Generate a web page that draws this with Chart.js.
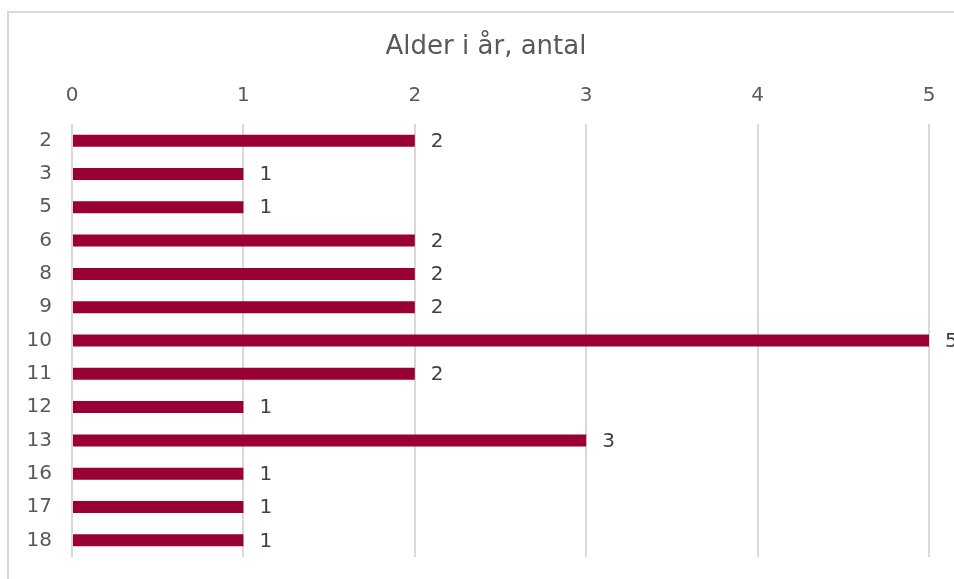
<!DOCTYPE html>
<html>
<head>
<meta charset="utf-8">
<script src="https://cdn.jsdelivr.net/npm/chart.js@4"></script>
<style>
  html, body { margin: 0; padding: 0; overflow: hidden; background: #fff; }
  #frame { position: absolute; left: 7px; top: 11px; width: 1000px; height: 700px; border: 2px solid #d9d9d9; }
  #wrap { position: absolute; left: 0; top: 0; width: 954px; height: 579px; }
</style>
</head>
<body>
<div id="frame"></div>
<div id="wrap"><canvas id="ageChart"></canvas></div>
<script>
// data
const ages = ["2", "3", "5", "6", "8", "9", "10", "11", "12", "13", "16", "17", "18"];
const counts = [2, 1, 1, 2, 2, 2, 5, 2, 1, 3, 1, 1, 1];
const xTicks = [0, 1, 2, 3, 4, 5];
const chartTitle = "Alder i år, antal";

const textColor = "#595959";
const fontFamily = "'DejaVu Sans', Verdana, sans-serif";

// title drawn by hand so it sits where the original one does
const titlePlugin = {
    id: "titlePlugin",
    afterDraw(chart) {
        const ctx = chart.ctx;
        ctx.save();
        ctx.font = "26px " + fontFamily;
        ctx.fillStyle = textColor;
        ctx.textAlign = "center";
        ctx.textBaseline = "middle";
        ctx.fillText(chartTitle, 486, 47);
        ctx.restore();
    }
};

// value labels at the end of each bar
const barLabels = {
    id: "barLabels",
    afterDatasetsDraw(chart) {
        const ctx = chart.ctx;
        const meta = chart.getDatasetMeta(0);
        ctx.save();
        ctx.font = "20px " + fontFamily;
        ctx.fillStyle = "#404040";
        ctx.textAlign = "left";
        ctx.textBaseline = "middle";
        meta.data.forEach((bar, i) => {
            ctx.fillText(String(counts[i]), bar.x + 16, bar.y + 1);
        });
        ctx.restore();
    }
};

new Chart(document.getElementById("ageChart").getContext("2d"), {
    type: "bar",
    data: {
        labels: ages,
        datasets: [{
            data: counts,
            backgroundColor: "#990033",
            borderWidth: 0,
            barPercentage: 0.36,
            categoryPercentage: 1
        }]
    },
    options: {
        indexAxis: "y",
        responsive: true,
        maintainAspectRatio: false,
        animation: false,
        layout: { padding: { left: 0, right: 25, top: 0, bottom: 22 } },
        plugins: {
            legend: { display: false },
            tooltip: { enabled: false },
            title: { display: false }
        },
        scales: {
            x: {
                position: "top",
                min: 0,
                max: 5,
                afterBuildTicks: (scale) => { scale.ticks = xTicks.map(v => ({ value: v })); },
                afterFit: (scale) => { scale.height = 124; },
                grid: { color: "#d9d9d9", lineWidth: 2, drawTicks: false },
                border: { display: false },
                ticks: { color: textColor, padding: 16, font: { family: fontFamily, size: 20 } }
            },
            y: {
                afterFit: (scale) => {
                    scale.width = 72;
                    scale.paddingTop = 0;
                    scale.paddingBottom = 0;
                },
                grid: { display: false, drawTicks: false },
                border: { display: false },
                ticks: { color: textColor, padding: 20, font: { family: fontFamily, size: 20 } }
            }
        }
    },
    plugins: [barLabels, titlePlugin]
});
</script>
</body>
</html>
